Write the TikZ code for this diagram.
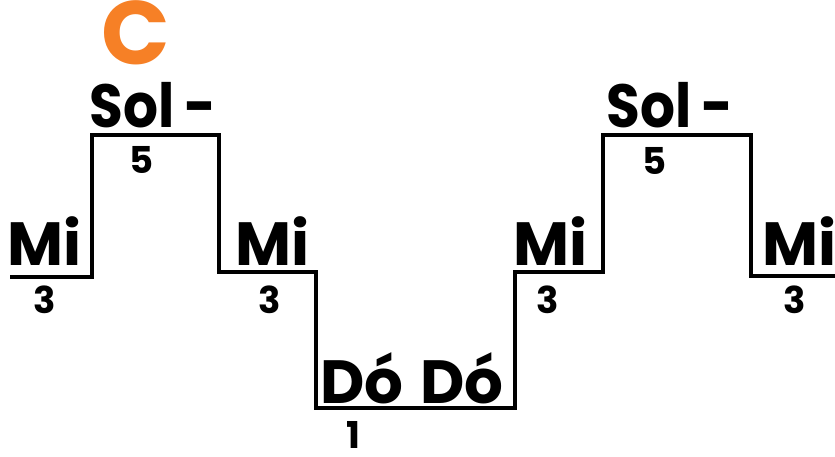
\documentclass[tikz,border=0pt]{standalone}
\usepackage{fontspec}
\setmainfont{Poppins}
\definecolor{chordorange}{RGB}{246,128,38}
\begin{document}
\begin{tikzpicture}[x=1pt,y=-1pt,
  note/.style={font=\fontsize{61}{61}\selectfont\bfseries,inner sep=0pt,anchor=base},
  held/.style={note,transform shape,xscale=0.9},
  degree/.style={font=\fontsize{37}{37}\selectfont\bfseries,inner sep=0pt,anchor=base,text depth=0pt},
  stair/.style={line width=3.4pt,line join=miter,line cap=butt}]
\useasboundingbox (0,0) rectangle (835,457);

% chord name
\node[font=\fontsize{90}{90}\selectfont\bfseries,text=chordorange,inner sep=0pt,anchor=base,text depth=0pt] (chord) at (136,65) {C};

% stair corners
\coordinate (s0) at (10,277);
\coordinate (s1) at (92,277);
\coordinate (s2) at (92,135);
\coordinate (s3) at (219,135);
\coordinate (s4) at (219,272);
\coordinate (s5) at (316,272);
\coordinate (s6) at (316,408);
\coordinate (s7) at (515,408);
\coordinate (s8) at (515,272);
\coordinate (s9) at (603,272);
\coordinate (s10) at (603,135);
\coordinate (s11) at (751,135);
\coordinate (s12) at (751,276);
\coordinate (s13) at (835,276);
\draw[stair] (s0) -- (s1) -- (s2) -- (s3) -- (s4) -- (s5) -- (s6) -- (s7)
  -- (s8) -- (s9) -- (s10) -- (s11) -- (s12) -- (s13);

% note names
\node[note] (mi1) at (44,265) {Mi};
\node[held] (sol1) at (153,128) {Sol\hspace{0.18em}-};
\node[note] (mi2) at (272,265) {Mi};
\node[note] (do) at (412,403) {Dó\hspace{0.27em}Dó};
\node[note] (mi3) at (550,265) {Mi};
\node[held] (sol2) at (670,128) {Sol\hspace{0.18em}-};
\node[note] (mi4) at (799,265) {Mi};

% scale degrees
\node[degree] (d1) at (45,313) {3};
\node[degree] (d2) at (142,174) {5};
\node[degree] (d3) at (270,313) {3};
\node[degree] (d4) at (353,448) {1};
\node[degree] (d5) at (548,313) {3};
\node[degree] (d6) at (655,175) {5};
\node[degree] (d7) at (795,313) {3};
\end{tikzpicture}
\end{document}
